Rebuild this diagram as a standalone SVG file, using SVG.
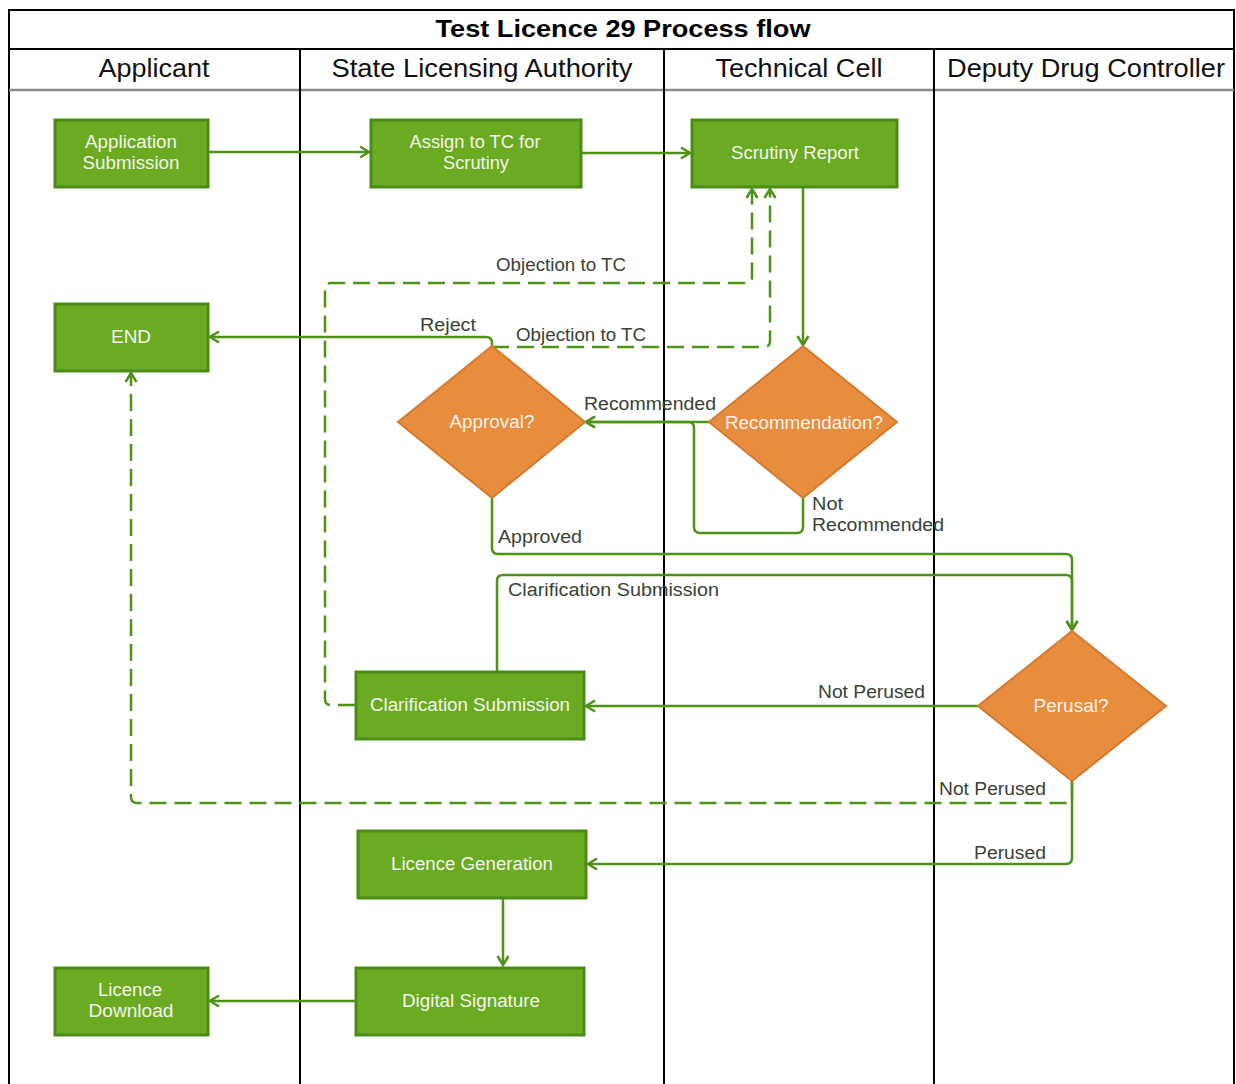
<svg xmlns="http://www.w3.org/2000/svg" width="1236" height="1084" viewBox="0 0 1236 1084">
<style>
.lane{stroke:#000;stroke-width:2;fill:none}
.title{font-family:"Liberation Sans",Arial,sans-serif;font-size:23px;font-weight:bold;fill:#000;text-anchor:middle}
.hdr{font-family:"Liberation Sans",Arial,sans-serif;font-size:25px;fill:#111;text-anchor:middle}
.box{fill:#6aab22;stroke:#4c8c16;stroke-width:3}
.dia{fill:#e88d3e;stroke:#d47a2c;stroke-width:2}
.nt{font-family:"Liberation Sans",Arial,sans-serif;font-size:18px;fill:#f4f4ec;text-anchor:middle}
.e{fill:none;stroke:#4f921a;stroke-width:2.5}
.d{stroke-dasharray:17 8}
.lbl{font-family:"Liberation Sans",Arial,sans-serif;font-size:18px;fill:#3a4235}
</style>
<defs>
<marker id="ah" markerUnits="userSpaceOnUse" markerWidth="14" markerHeight="14" refX="11" refY="7" orient="auto">
<path d="M2,1.5 L11,7 L2,12.5" fill="none" stroke="#4f921a" stroke-width="2.5" stroke-dasharray="none"/>
</marker>
</defs>
<rect width="1236" height="1084" fill="#fff"/>
<g id="pool">
<rect x="9" y="10" width="1225" height="1080" class="lane"/>
<line x1="9" y1="49" x2="1234" y2="49" class="lane"/>
<line x1="9" y1="90" x2="1234" y2="90" stroke="#8a8a8a" stroke-width="2.5"/>
<line x1="300" y1="49" x2="300" y2="1084" class="lane"/>
<line x1="664" y1="49" x2="664" y2="1084" class="lane"/>
<line x1="934" y1="49" x2="934" y2="1084" class="lane"/>
<text x="623" y="37" class="title" textLength="375" lengthAdjust="spacingAndGlyphs">Test Licence 29 Process flow</text>
<text x="154" y="77" class="hdr" textLength="111" lengthAdjust="spacingAndGlyphs">Applicant</text>
<text x="482" y="77" class="hdr" textLength="301" lengthAdjust="spacingAndGlyphs">State Licensing Authority</text>
<text x="799" y="77" class="hdr" textLength="167" lengthAdjust="spacingAndGlyphs">Technical Cell</text>
<text x="1086" y="77" class="hdr" textLength="278" lengthAdjust="spacingAndGlyphs">Deputy Drug Controller</text>
</g>
<g id="connectors">
<path class="e" d="M208,152 L369,152" marker-end="url(#ah)"/>
<path class="e" d="M581,153 L690,153" marker-end="url(#ah)"/>
<path class="e" d="M803,187 L803,345" marker-end="url(#ah)"/>
<path class="e" d="M709,422 L586,422" marker-end="url(#ah)"/>
<path class="e" d="M803,498 L803,527 Q803,533 797,533 L700,533 Q694,533 694,527 L694,428 Q694,422 688,422 L586,422" marker-end="url(#ah)"/>
<path class="e" d="M492,346 L492,343 Q492,337 486,337 L210,337" marker-end="url(#ah)"/>
<path class="e d" d="M492,347 L764,347 Q770,347 770,341 L770,189" marker-end="url(#ah)"/>
<path class="e d" d="M355,705 L331,705 Q325,705 325,699 L325,289 Q325,283 331,283 L746,283 Q752,283 752,277 L752,189" marker-end="url(#ah)"/>
<path class="e" d="M492,498 L492,548 Q492,554 498,554 L1066,554 Q1072,554 1072,560 L1072,630" marker-end="url(#ah)"/>
<path class="e" d="M497,671 L497,581 Q497,575 503,575 L1066,575 Q1072,575 1072,581 L1072,630" marker-end="url(#ah)"/>
<path class="e" d="M978,706 L586,706" marker-end="url(#ah)"/>
<path class="e d" d="M1072,781 L1072,797 Q1072,803 1066,803 L137,803 Q131,803 131,797 L131,373" marker-end="url(#ah)"/>
<path class="e" d="M1072,781 L1072,858 Q1072,864 1066,864 L588,864" marker-end="url(#ah)"/>
<path class="e" d="M503,898 L503,965" marker-end="url(#ah)"/>
<path class="e" d="M355,1001 L210,1001" marker-end="url(#ah)"/>
<text class="lbl" x="496" y="271" textLength="130" lengthAdjust="spacingAndGlyphs">Objection to TC</text>
<text class="lbl" x="420" y="331" textLength="56" lengthAdjust="spacingAndGlyphs">Reject</text>
<text class="lbl" x="516" y="341" textLength="130" lengthAdjust="spacingAndGlyphs">Objection to TC</text>
<text class="lbl" x="584" y="410" textLength="132" lengthAdjust="spacingAndGlyphs">Recommended</text>
<text class="lbl" x="812" y="510" textLength="31" lengthAdjust="spacingAndGlyphs">Not</text>
<text class="lbl" x="812" y="531" textLength="132" lengthAdjust="spacingAndGlyphs">Recommended</text>
<text class="lbl" x="498" y="543" textLength="84" lengthAdjust="spacingAndGlyphs">Approved</text>
<text class="lbl" x="508" y="596" textLength="211" lengthAdjust="spacingAndGlyphs">Clarification Submission</text>
<text class="lbl" x="818" y="698" textLength="107" lengthAdjust="spacingAndGlyphs">Not Perused</text>
<text class="lbl" x="939" y="795" textLength="107" lengthAdjust="spacingAndGlyphs">Not Perused</text>
<text class="lbl" x="974" y="859" textLength="72" lengthAdjust="spacingAndGlyphs">Perused</text>
</g>
<g id="n-appsub">
<rect class="box" x="55" y="120" width="153" height="67"/>
<text class="nt" x="131" y="148" textLength="92" lengthAdjust="spacingAndGlyphs">Application</text>
<text class="nt" x="131" y="169" textLength="97" lengthAdjust="spacingAndGlyphs">Submission</text>
</g>
<g id="n-assign">
<rect class="box" x="371" y="120" width="210" height="67"/>
<text class="nt" x="475" y="148" textLength="131" lengthAdjust="spacingAndGlyphs">Assign to TC for</text>
<text class="nt" x="476" y="169" textLength="66" lengthAdjust="spacingAndGlyphs">Scrutiny</text>
</g>
<g id="n-scrutiny">
<rect class="box" x="692" y="120" width="205" height="67"/>
<text class="nt" x="795" y="159" textLength="128" lengthAdjust="spacingAndGlyphs">Scrutiny Report</text>
</g>
<g id="n-end">
<rect class="box" x="55" y="304" width="153" height="67"/>
<text class="nt" x="131" y="343" textLength="40" lengthAdjust="spacingAndGlyphs">END</text>
</g>
<g id="n-approval">
<polygon class="dia" points="492,346 585,422 492,498 398,422"/>
<text class="nt" x="492" y="428" textLength="85" lengthAdjust="spacingAndGlyphs">Approval?</text>
</g>
<g id="n-recommendation">
<polygon class="dia" points="803,346 897,422 803,498 709,422"/>
<text class="nt" x="804" y="429" textLength="158" lengthAdjust="spacingAndGlyphs">Recommendation?</text>
</g>
<g id="n-clarification">
<rect class="box" x="356" y="672" width="228" height="67"/>
<text class="nt" x="470" y="711" textLength="200" lengthAdjust="spacingAndGlyphs">Clarification Submission</text>
</g>
<g id="n-perusal">
<polygon class="dia" points="1072,631 1166,706 1072,781 978,706"/>
<text class="nt" x="1071" y="712" textLength="75" lengthAdjust="spacingAndGlyphs">Perusal?</text>
</g>
<g id="n-licgen">
<rect class="box" x="358" y="831" width="228" height="67"/>
<text class="nt" x="472" y="870" textLength="162" lengthAdjust="spacingAndGlyphs">Licence Generation</text>
</g>
<g id="n-digsig">
<rect class="box" x="356" y="968" width="228" height="67"/>
<text class="nt" x="471" y="1007" textLength="138" lengthAdjust="spacingAndGlyphs">Digital Signature</text>
</g>
<g id="n-licdl">
<rect class="box" x="55" y="968" width="153" height="67"/>
<text class="nt" x="130" y="996" textLength="64" lengthAdjust="spacingAndGlyphs">Licence</text>
<text class="nt" x="131" y="1017" textLength="85" lengthAdjust="spacingAndGlyphs">Download</text>
</g>
</svg>
